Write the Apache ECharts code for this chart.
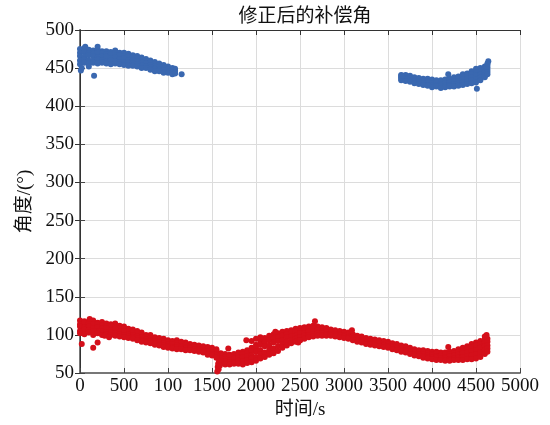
<!DOCTYPE html>
<html>
<head>
<meta charset="utf-8">
<script src="https://cdn.jsdelivr.net/npm/echarts@6/dist/echarts.min.js"></script>
<style>html,body{margin:0;padding:0;background:#fff}#c{width:550px;height:425px}</style>
</head>
<body>
<div id="c"></div>
<script>
// ---- Text ----
var titleText = '修正后的补偿角';
var xName = '时间/s';
var yName = '角度/(°)';
var xTickValues = [0,500,1000,1500,2000,2500,3000,3500,4000,4500,5000];
var xTickLabels = ['0','500','100','1500','2000','2500','3000','3500','4000','4500','5000'];
var yTickValues = [50,100,150,200,250,300,350,400,450,500];

// ---- Red series (compensation angle, lower band) ----
var redT   = [0,50,100,150,200,250,300,350,400,450,500,550,600,650,700,750,800,850,900,950,1000,1050,1100,1150,1200,1250,1300,1350,1400,1450,1500,1550,1600,1650,1700,1750,1800,1850,1900,1950,2000,2050,2100,2150,2200,2250,2300,2350,2400,2450,2500,2550,2600,2650,2700,2750,2800,2850,2900,2950,3000,3050,3100,3150,3200,3250,3300,3350,3400,3450,3500,3550,3600,3650,3700,3750,3800,3850,3900,3950,4000,4050,4100,4150,4200,4250,4300,4350,4400,4450,4500,4550,4600,4630];
var redHi  = [119,118,117,119,116,117,115,114,115,112,111,108,107,105,103,100,100,97,96,95,93,92,93,91,90,88,87,86,85,84,83,81,76,75,74,75,77,78,80,83,87,92,96,99,101,102,104,105,106,108,109,110,111,112,111,110,109,107,106,105,104,103,101,99,98,96,95,94,93,92,91,89,88,86,85,83,81,80,80,79,78,78,77,77,78,79,81,83,85,88,90,92,94,95];
var redUm  = [114,116,115,114,114,112,111,112,110,109,108,106,104,103,100,98,96,95,94,92,91,90,89,89,87,86,85,84,83,82,80,79,74,71,72,71,74,75,77,79,83,87,90,93,96,97,99,101,103,104,105,107,108,109,108,108,107,105,104,103,102,101,99,97,96,94,93,92,91,90,89,87,86,84,83,81,79,78,77,76,75,76,74,75,75,76,78,79,82,84,86,88,90,91];
var redMid = [111,110,111,109,110,108,109,106,108,104,105,101,100,98,97,94,93,92,90,89,87,88,86,85,84,83,84,81,80,79,77,75,69,68,67,69,70,71,72,73,78,80,85,86,90,92,93,97,98,99,102,102,105,104,106,104,104,103,101,101,100,98,97,96,93,92,91,89,89,87,87,85,83,82,80,79,77,75,75,73,73,72,72,71,72,73,74,76,77,79,80,83,85,86];
var redLm  = [105,107,106,105,104,104,103,103,102,101,100,98,97,96,93,92,91,89,88,86,85,84,84,83,82,82,81,80,79,76,75,73,66,65,64,64,66,65,67,69,71,75,77,80,82,85,88,91,93,95,97,99,100,101,102,102,101,101,100,99,98,97,95,93,92,90,89,88,87,86,85,83,82,80,79,77,75,74,72,71,70,70,69,69,68,69,70,71,72,73,75,77,80,82];
var redLo  = [102,101,103,100,102,100,101,100,99,98,97,96,95,93,91,90,89,87,86,84,83,82,81,81,80,80,79,78,77,74,73,70,63,61,61,62,62,61,63,64,66,69,71,74,76,79,83,86,89,91,93,95,97,98,99,99,99,99,98,97,96,95,93,91,90,88,87,86,85,84,83,81,80,78,77,75,73,72,70,69,68,67,67,66,66,67,67,67,68,68,69,71,75,78];
var redOutT = [20,110,150,200,280,330,1560,1565,1570,1575,1580,1590,1685,1890,1950,2000,2050,2220,2480,2500,2670,3090,4185,4600,4620];
var redOutV = [88,121,83,90,99,97,52,58,62,55,65,60,82,93,92,95,97,104,90,93,118,106,84,98,100];

// ---- Blue series (compensation angle, upper band, first segment) ----
var blueAT   = [0,50,100,150,200,250,300,350,400,450,500,550,600,650,700,750,800,850,900,950,1000,1050,1080];
var blueAHi  = [475,476,474,473,474,472,472,471,473,470,470,469,467,466,464,462,460,458,456,454,452,450,449];
var blueAUm  = [470,471,470,469,470,469,468,468,467,467,466,465,464,463,461,459,457,456,454,452,450,448,447];
var blueAMid = [466,465,467,466,464,465,465,463,464,462,463,460,460,459,457,456,454,452,451,449,448,446,445];
var blueALm  = [460,461,460,460,461,460,459,460,459,458,457,457,456,455,453,452,451,449,448,447,446,444,444];
var blueALo  = [455,457,456,457,456,457,456,455,456,455,454,453,453,452,450,450,448,446,446,444,444,442,443];
var blueAOutT = [10,20,60,100,160,200,1155];
var blueAOutV = [447,450,478,452,440,478,442];

// ---- Blue series (second segment) ----
var blueBT   = [3650,3700,3750,3800,3850,3900,3950,4000,4050,4100,4150,4200,4250,4300,4350,4400,4450,4500,4550,4600,4630];
var blueBHi  = [441,441,440,438,437,436,436,435,434,434,435,436,438,439,442,443,446,449,450,452,454];
var blueBUm  = [440,439,438,436,435,434,433,432,432,432,433,434,435,436,439,440,442,445,446,449,451];
var blueBMid = [438,437,436,434,433,432,431,430,431,429,430,431,432,433,435,436,438,440,442,445,448];
var blueBLm  = [436,435,434,432,431,430,428,428,427,427,427,428,429,430,431,432,434,435,438,441,445];
var blueBLo  = [434,433,432,430,429,428,427,425,426,424,425,426,426,427,428,429,430,431,434,438,442];
var blueBOutT = [3660,4185,4510,4620,4630,4640];
var blueBOutV = [440,442,423,452,456,459];

function build(times, rows) {
  var pts = [];
  rows.forEach(function (r) { for (var i = 0; i < times.length; i++) pts.push([times[i], r[i]]); });
  return pts;
}
function pairs(t, v) { var p = []; for (var i = 0; i < t.length; i++) p.push([t[i], v[i]]); return p; }

var redData = build(redT, [redHi, redUm, redMid, redLm, redLo]).concat(pairs(redOutT, redOutV));
var blueData = build(blueAT, [blueAHi, blueAUm, blueAMid, blueALm, blueALo]).concat(pairs(blueAOutT, blueAOutV))
  .concat(build(blueBT, [blueBHi, blueBUm, blueBMid, blueBLm, blueBLo])).concat(pairs(blueBOutT, blueBOutV));

var serif = "'Liberation Serif','Times New Roman','Noto Sans CJK SC',serif";
var gridColor = '#dcdcdc';
var chart = echarts.init(document.getElementById('c'), null, {renderer: 'canvas'});
chart.setOption({
  animation: false,
  backgroundColor: '#ffffff',
  title: {
    text: titleText, left: 300, top: 3, textAlign: 'center',
    textStyle: {fontFamily: serif, fontSize: 19, fontWeight: 'normal', color: '#111'}
  },
  grid: {left: 80, right: 30, top: 30, bottom: 45},
  xAxis: [{
    type: 'value', min: 0, max: 5000, interval: 500,
    name: xName, nameLocation: 'middle', nameGap: 28,
    nameTextStyle: {fontFamily: serif, fontSize: 19, color: '#111'},
    axisLine: {show: true, lineStyle: {color: '#777', width: 2}},
    axisTick: {show: true, inside: true, length: 5, lineStyle: {color: '#444'}},
    axisLabel: {
      fontFamily: serif, fontSize: 19, color: '#111', margin: 4,
      formatter: function (v) { var i = xTickValues.indexOf(v); return i >= 0 ? xTickLabels[i] : ''; }
    },
    splitLine: {show: true, lineStyle: {color: gridColor, width: 1}}
  }, {
    type: 'value', min: 0, max: 5000, interval: 500, position: 'top',
    axisLine: {show: true, lineStyle: {color: '#333', width: 1}},
    axisTick: {show: true, inside: true, length: 5, lineStyle: {color: '#333'}},
    axisLabel: {show: false}, splitLine: {show: false}
  }],
  yAxis: [{
    type: 'value', min: 50, max: 500, interval: 50,
    name: yName, nameLocation: 'middle', nameGap: 44,
    nameTextStyle: {fontFamily: serif, fontSize: 19, color: '#111'},
    axisLine: {show: true, lineStyle: {color: '#777', width: 2}},
    axisTick: {show: true, inside: true, length: 5, lineStyle: {color: '#444'}},
    axisLabel: {
      fontFamily: serif, fontSize: 19, color: '#111', margin: 6,
      formatter: function (v) { return yTickValues.indexOf(v) >= 0 ? String(v) : ''; }
    },
    splitLine: {show: true, lineStyle: {color: gridColor, width: 1}}
  }, {
    type: 'value', min: 50, max: 500, interval: 50, position: 'right',
    axisLine: {show: true, lineStyle: {color: '#333', width: 1}},
    axisTick: {show: true, inside: true, length: 5, lineStyle: {color: '#333'}},
    axisLabel: {show: false}, splitLine: {show: false}
  }],
  series: [{
    type: 'scatter', xAxisIndex: 0, yAxisIndex: 0, data: blueData,
    symbol: 'circle', symbolSize: 6, itemStyle: {color: '#3a68b0', opacity: 1},
    emphasis: {disabled: true}
  }, {
    type: 'scatter', xAxisIndex: 0, yAxisIndex: 0, data: redData,
    symbol: 'circle', symbolSize: 6, itemStyle: {color: '#d40f1a', opacity: 1},
    emphasis: {disabled: true}
  }]
});
</script>
</body>
</html>
